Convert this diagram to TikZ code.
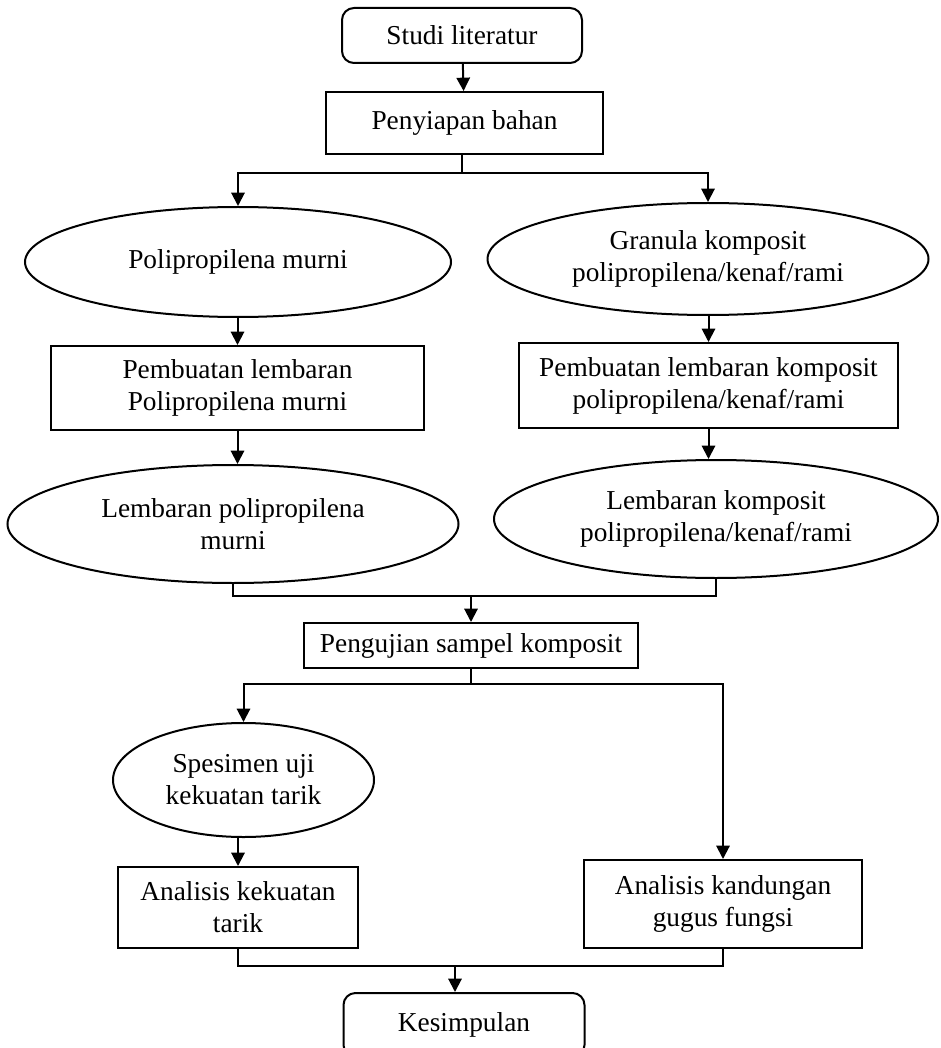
\documentclass[tikz,border=0pt]{standalone}
\usepackage{fontspec}
\setmainfont{Liberation Serif}
\usetikzlibrary{shapes.geometric,arrows.meta}
\begin{document}
\begin{tikzpicture}[x=0.75pt,y=-0.75pt,
  every node/.style={font=\fontsize{20.5}{24}\selectfont, align=center, inner sep=0pt, line width=1.5pt},
  sz/.style 2 args={minimum width=#1*0.75pt, minimum height=#2*0.75pt},
  rbox/.style={draw, rounded corners=9pt},
  pbox/.style={draw, rectangle},
  ell/.style={draw, ellipse},
  line/.style={line width=1.5pt},
  arr/.style={line width=1.5pt, -{Triangle[width=10pt,length=10pt]}}
]
\useasboundingbox (0,0) rectangle (941,1048);

\node[rbox, sz={240}{55}] (lit) at (462,35.5) {Studi literatur};
\node[pbox, sz={277}{62}] (bahan) at (464.5,123) {Penyiapan bahan};
\node[ell, sz={426}{110}] (e1) at (238,262) {Polipropilena murni};
\node[ell, sz={441}{112}] (e2) at (708,259) {Granula komposit\\polipropilena/kenaf/rami};
\node[pbox, sz={373}{84}] (b1) at (237.5,388) {Pembuatan lembaran\\Polipropilena murni};
\node[pbox, sz={379}{85}] (b2) at (708.5,385.5) {Pembuatan lembaran komposit\\polipropilena/kenaf/rami};
\node[ell, sz={451}{118}] (e3) at (233,524) {Lembaran polipropilena\\murni};
\node[ell, sz={444}{118}] (e4) at (716,519) {Lembaran komposit\\polipropilena/kenaf/rami};
\node[pbox, sz={334}{45}] (uji) at (471,645.5) {Pengujian sampel komposit};
\node[ell, sz={261}{114}] (e5) at (243.5,780) {Spesimen uji\\kekuatan tarik};
\node[pbox, sz={240}{81}] (b3) at (238,907.5) {Analisis kekuatan\\tarik};
\node[pbox, sz={278}{88}] (b4) at (723,904) {Analisis kandungan\\gugus fungsi};
\node[rbox, sz={241}{64}] (kes) at (464,1025) {Kesimpulan};

\coordinate (j1) at (462,173);
\coordinate (j2) at (471,596);
\coordinate (j3) at (471,684);
\coordinate (j4) at (455,966);

\draw[arr] (lit) -- (bahan);
\draw[line] (bahan.south -| j1) -- (j1);
\draw[arr] (j1) -| (e1.north);
\draw[arr] (j1) -| (e2.north);
\draw[arr] (e1.south -| b1.north) -- (b1.north);
\draw[arr] (b1.south) -- (b1.south |- e3.north);
\draw[arr] (e2.south -| b2.north) -- (b2.north);
\draw[arr] (b2.south) -- (b2.south |- e4.north);
\draw[line] (e3.south) |- (j2);
\draw[line] (e4.south) |- (j2);
\draw[arr] (j2) -- (uji.north);
\draw[line] (uji.south) -- (j3);
\draw[arr] (j3) -| (e5.north);
\draw[arr] (j3) -| (b4.north);
\draw[arr] (b3.north |- e5.south) -- (b3.north);
\draw[line] (b3.south) |- (j4);
\draw[line] (b4.south) |- (j4);
\draw[arr] (j4) -- (j4 |- kes.north);
\end{tikzpicture}
\end{document}
